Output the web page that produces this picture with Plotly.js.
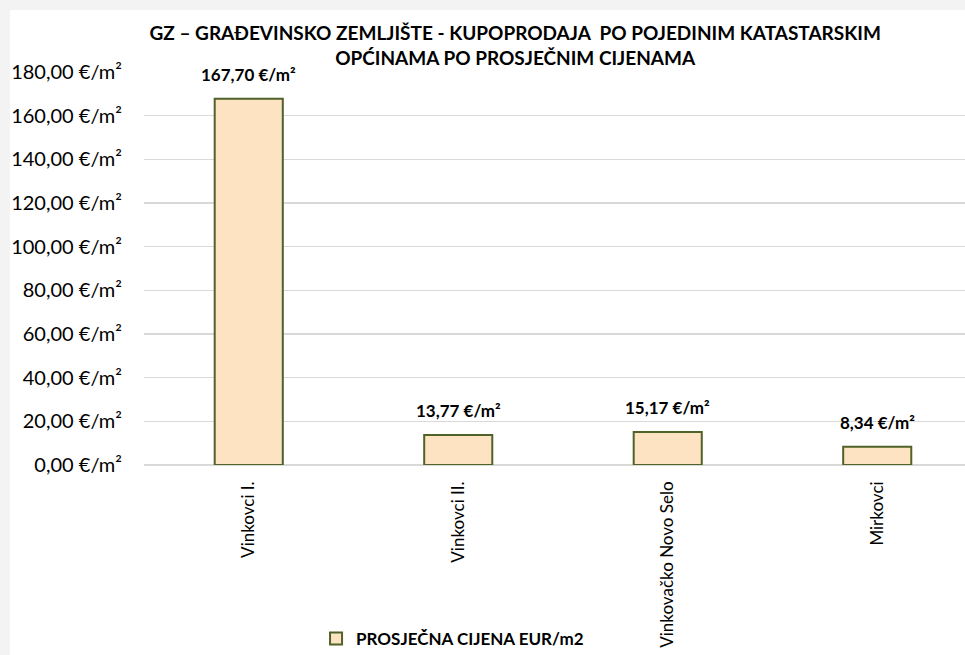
<!DOCTYPE html>
<html>
<head>
<meta charset="utf-8">
<script src="https://cdn.plot.ly/plotly-3.0.1.min.js"></script>
<style>
html,body{margin:0;padding:0;background:#f3f3f3;width:965px;height:655px;overflow:hidden;}
#chart{position:absolute;left:10px;top:10px;width:955px;height:645px;background:#fff;}
</style>
</head>
<body>
<div id="chart"></div>
<script>
const categories = ["Vinkovci I.", "Vinkovci II.", "Vinkovačko Novo Selo", "Mirkovci"];
const values = [167.70, 13.77, 15.17, 8.34];
const yTicks = [0, 20, 40, 60, 80, 100, 120, 140, 160, 180];
const seriesName = "PROSJEČNA CIJENA EUR/m2";
const unit = " €/m²";

const fmt = v => v.toFixed(2).replace('.', ',') + unit;

const FONT = "Lato, 'Open Sans', sans-serif";
const xIdx = categories.map((c, i) => i);

const trace = {
  type: 'bar',
  x: xIdx,
  y: values,
  name: seriesName,
  width: 0.325,
  marker: {color: '#fde3c2', line: {color: '#4f6228', width: 2}},
  showlegend: true,
  hoverinfo: 'skip'
};

const labels = values.map((v, i) => ({
  x: xIdx[i], y: v, xref: 'x', yref: 'y',
  text: fmt(v), showarrow: false,
  xanchor: 'center', yanchor: 'bottom', yshift: 12,
  font: {family: FONT, size: 17, color: '#000', weight: 'bold'}
}));

const layout = {
  width: 955, height: 645,
  margin: {l: 134, r: 0, t: 62, b: 190},
  paper_bgcolor: '#fff', plot_bgcolor: '#fff',
  font: {family: FONT, color: '#000'},
  title: {
    text: 'GZ – GRAĐEVINSKO ZEMLJIŠTE - KUPOPRODAJA  PO POJEDINIM KATASTARSKIM<br>OPĆINAMA PO PROSJEČNIM CIJENAMA',
    font: {family: FONT, size: 19, color: '#000', weight: 'bold'},
    x: 0.529, xanchor: 'center', xref: 'container',
    y: 0.9535, yanchor: 'top', yref: 'container'
  },
  annotations: labels,
  xaxis: {
    range: [-0.5, 3.419],
    tickvals: xIdx,
    ticktext: categories,
    tickangle: -90,
    tickfont: {family: FONT, size: 17, color: '#000'},
    showgrid: false, zeroline: false, showline: false,
    ticks: '', ticklabelstandoff: 12
  },
  yaxis: {
    range: [0, 180],
    tickvals: yTicks,
    ticktext: yTicks.map(fmt),
    tickfont: {family: FONT, size: 20, color: '#000'},
    showgrid: true, gridcolor: '#d9d9d9', gridwidth: 1.5,
    zeroline: true, zerolinecolor: '#d9d9d9', zerolinewidth: 1.5,
    showline: false, ticks: '', ticklabelstandoff: 21
  },
  legend: {
    orientation: 'h',
    x: 0.4634, xanchor: 'center', xref: 'container',
    y: 0.0248, yanchor: 'middle', yref: 'container',
    font: {family: FONT, size: 17, color: '#000', weight: 'bold'},
    itemwidth: 30
  },
  showlegend: true
};

Plotly.newPlot('chart', [trace], layout, {displayModeBar: false, staticPlot: true});
</script>
</body>
</html>
